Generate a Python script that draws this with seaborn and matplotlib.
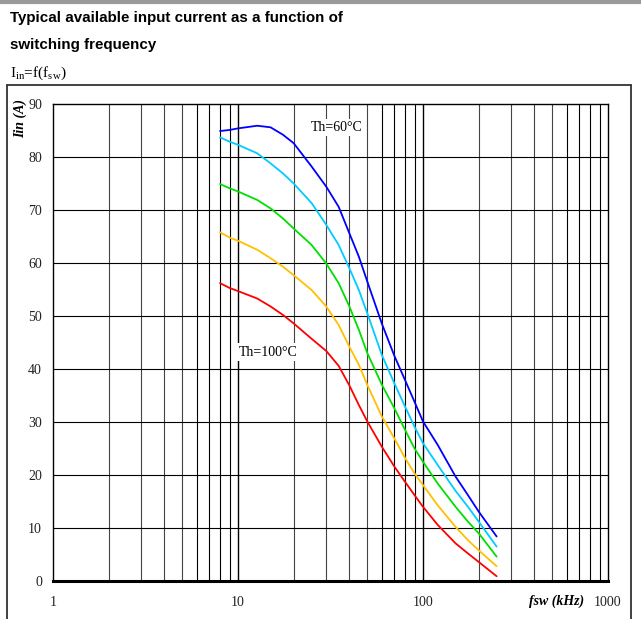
import numpy as np
import pandas as pd
import matplotlib
matplotlib.use("Agg")
import matplotlib.pyplot as plt
import seaborn as sns
from matplotlib.lines import Line2D

# frequencies (kHz) where curves were read
freq = [8, 9, 10, 12.7, 15, 17.5, 20, 25, 30, 35, 40, 45, 50,
        60, 70, 80, 90, 100, 120, 150, 175, 200, 250]
# Iin (A) per heatsink temperature
i_60 = [84.9, 85.1, 85.4, 85.9, 85.6, 84.2, 82.6, 78.2, 74.4, 70.6, 65.6, 61.2, 56.5,
        48.5, 42.5, 37.9, 33.8, 30.1, 25.7, 19.7, 16.2, 13.1, 8.4]
i_70 = [83.7, 82.9, 82.3, 80.7, 78.8, 76.9, 75.0, 71.3, 67.2, 63.4, 59.0, 54.9, 50.5,
        42.6, 37.3, 32.9, 29.1, 26.0, 21.9, 17.0, 14.0, 11.2, 6.5]
i_80 = [74.9, 74.1, 73.5, 71.9, 70.3, 68.4, 66.5, 63.4, 59.9, 56.2, 51.8, 47.4, 43.0,
        37.0, 32.6, 28.5, 25.0, 22.5, 18.4, 14.0, 11.2, 9.0, 4.6]
i_90 = [65.8, 64.8, 64.2, 62.5, 60.9, 59.3, 57.7, 54.9, 51.8, 48.3, 44.2, 40.8, 37.0,
        31.0, 26.9, 23.2, 20.3, 18.1, 14.3, 10.2, 7.7, 5.8, 2.8]
i_100 = [56.2, 55.3, 54.7, 53.3, 51.8, 50.2, 48.6, 45.7, 43.4, 40.6, 36.9, 33.2, 30.1,
         25.3, 21.6, 18.7, 16.2, 14.0, 10.6, 7.1, 5.2, 3.6, 0.9]
series = ["60", "70", "80", "90", "100"]
colors = ["#0000FF", "#00CCFF", "#00E000", "#FFC000", "#FF0000"]

df = pd.concat([
    pd.DataFrame({"fsw": freq, "Iin": v, "Th": s})
    for s, v in zip(series, [i_60, i_70, i_80, i_90, i_100])
])

sns.set_style("white")
plt.rcParams["font.family"] = ["Liberation Serif", "DejaVu Serif"]
plt.rcParams["text.color"] = "black"

fig = plt.figure(figsize=(6.41, 6.19), dpi=100)
ax = fig.add_axes([53 / 641, 1 - 581 / 619, (608 - 53) / 641, (581 - 104) / 619])

ax.set_xscale("log")
ax.set_xlim(1, 1000)
ax.set_ylim(0, 90)

# grid
for dec in [1, 10, 100]:
    for m in range(1, 10):
        x = dec * m
        if x <= 1 or x >= 1000:
            continue
        lw = 1.0 if m == 1 else 0.8
        c = "black" if m == 1 or m >= 6 else "#444444"
        ax.axvline(x, color=c, lw=lw, zorder=1)
for y in range(10, 90, 10):
    ax.axhline(y, color="black", lw=0.8, zorder=1)

sns.lineplot(data=df, x="fsw", y="Iin", hue="Th", palette=colors, lw=1.3,
             legend=False, ax=ax, zorder=3)

ax.set_xticks([1, 10, 100, 1000])
ax.set_xticklabels(["1", "10", "100", "1000"])
ax.set_yticks(range(0, 91, 10))
ax.xaxis.set_minor_locator(matplotlib.ticker.NullLocator())
ax.tick_params(axis="both", length=0, labelsize=10, colors="#222222")
ax.tick_params(axis="x", pad=11)
ax.tick_params(axis="y", pad=8)
ax.set_xlabel("")
ax.set_ylabel("")
for s in ["top", "right", "left"]:
    ax.spines[s].set_color("black")
    ax.spines[s].set_linewidth(1.0)
ax.spines["bottom"].set_color("black")
ax.spines["bottom"].set_linewidth(2.2)

ax.text(530, -3.8, "fsw (kHz)", ha="center", va="center", fontsize=10,
        style="italic", weight="bold", transform=ax.transData, clip_on=False)
fig.text(20 / 641, 1 - 118 / 619, "Iin (A)", rotation=90, ha="center", va="center",
         fontsize=10, style="italic", weight="bold")

box = dict(facecolor="white", edgecolor="none", pad=1.5)
ax.text(34.3, 85.5, "Th=60°C", ha="center", va="center", fontsize=10, bbox=box, zorder=2)
ax.text(14.5, 43.2, "Th=100°C", ha="center", va="center", fontsize=10, bbox=box, zorder=2)

# page decoration
fig.add_artist(Line2D([0, 1], [1 - 1.5 / 619, 1 - 1.5 / 619], color="#999999", lw=3))
fig.add_artist(Line2D([7 / 641, 7 / 641], [0, 1 - 85 / 619], color="#333333", lw=1.3))
fig.add_artist(Line2D([631 / 641, 631 / 641], [0, 1 - 85 / 619], color="#333333", lw=1.3))
fig.add_artist(Line2D([7 / 641, 631 / 641], [1 - 85 / 619, 1 - 85 / 619], color="#333333", lw=1.3))

fig.text(10 / 641, 1 - 18 / 619, "Typical available input current as a function of",
         family="Liberation Sans", weight="bold", fontsize=10.9, va="center")
fig.text(10 / 641, 1 - 45 / 619, "switching frequency",
         family="Liberation Sans", weight="bold", fontsize=10.9, va="center")
fig.text(10 / 641, 1 - 73 / 619, r"I$_{\mathregular{in}}$=f(f$_{\mathregular{sw}}$)",
         fontsize=11, va="center")

fig.savefig("out.png", dpi=100)
